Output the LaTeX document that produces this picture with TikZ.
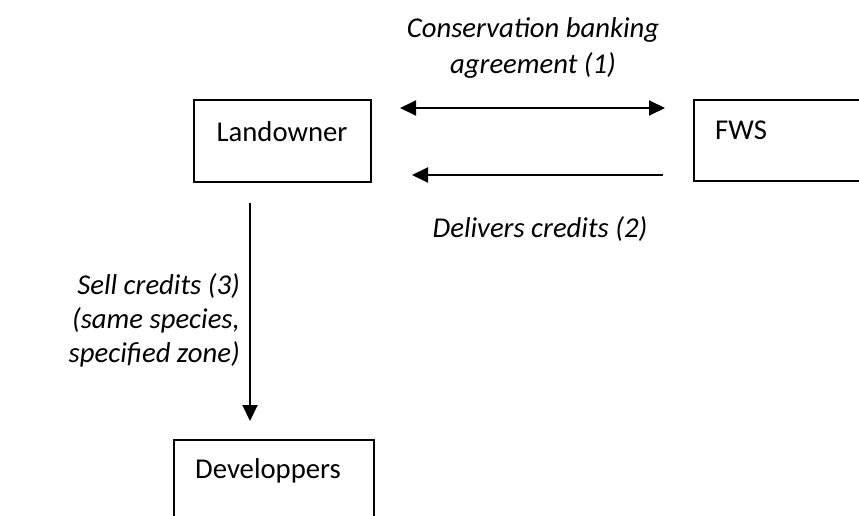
\documentclass[tikz,border=0pt]{standalone}
\usepackage{fontspec}
\setmainfont{Carlito}
\usetikzlibrary{arrows.meta}
\tikzset{
  box/.style={draw=black, line width=1.8pt, rectangle, inner sep=0pt},
  lbl/.style={inner sep=0pt, font=\fontsize{28.7}{35}\selectfont, anchor=base},
  ilbl/.style={lbl, font=\fontsize{28.7}{35}\selectfont\itshape},
  conn/.style={line width=2pt, -{Triangle[length=16pt,width=15pt]}},
  dconn/.style={line width=2pt, {Triangle[length=16pt,width=15pt]}-{Triangle[length=16pt,width=15pt]}},
}
\begin{document}
\begin{tikzpicture}[x=1pt,y=-1pt]
\useasboundingbox (0,0) rectangle (859,515);
\clip (0,0) rectangle (859,515);
% boxes
\node[box, minimum width=177pt, minimum height=82pt] (land) at (282.5,141) {};
\node[box, minimum width=220pt, minimum height=81pt] (fws) at (804,140.5) {};
\node[box, minimum width=200pt, minimum height=100pt] (dev) at (274,490) {};
% box texts
\node[lbl] (landt) at (282,141) {Landowner};
\node[lbl, anchor=base west] (fwst) at (715,139) {FWS};
\node[lbl, anchor=base west] (devt) at (195,478) {Developpers};
% arrow ends
\coordinate (a1) at (400,108);
\coordinate (a2) at (665,108);
\coordinate (b1) at (663,175);
\coordinate (b2) at (412,175);
\coordinate (c1) at (250,203);
\coordinate (c2) at (250,421);
\draw[dconn] (a1) -- (a2);
\draw[conn] (b1) -- (b2);
\draw[conn] (c1) -- (c2);
% labels
\node[ilbl] (t1) at (533,37) {Conservation banking};
\node[ilbl] (t2) at (533,73) {agreement (1)};
\node[ilbl] (t3) at (540,237) {Delivers credits (2)};
\node[ilbl, anchor=base east] (t4) at (240,294) {Sell credits (3)};
\node[ilbl, anchor=base east] (t5) at (240,328) {(same species,};
\node[ilbl, anchor=base east] (t6) at (240,362) {specified zone)};
\end{tikzpicture}
\end{document}
